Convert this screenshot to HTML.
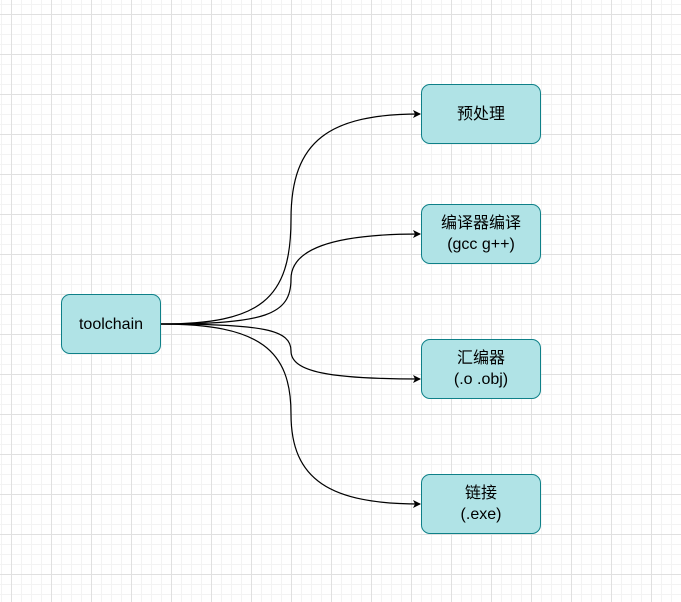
<!DOCTYPE html>
<html><head><meta charset="utf-8"><style>
html,body{margin:0;padding:0}
body{width:681px;height:602px;overflow:hidden;background:#fff;
background-image:linear-gradient(#e0e0e0 1px,transparent 1px),linear-gradient(90deg,#e0e0e0 1px,transparent 1px),linear-gradient(#f3f3f3 1px,transparent 1px),linear-gradient(90deg,#f3f3f3 1px,transparent 1px);
background-size:40px 40px,40px 40px,10px 10px,10px 10px;background-position:11px 14px,11px 14px,1px 4px,1px 4px;position:relative;
font-family:"Liberation Sans","Noto Sans CJK SC",sans-serif}
.b{position:absolute;box-sizing:border-box;background:#b0e3e6;border:1px solid #0e8088;border-radius:9px;
display:flex;align-items:center;justify-content:center;text-align:center;font-size:16px;line-height:21px;color:#000}
svg{position:absolute;left:0;top:0}
</style></head><body>
<svg width="681" height="602">
<defs><marker id="a" markerWidth="8" markerHeight="8" refX="7" refY="4" orient="auto" markerUnits="userSpaceOnUse"><path d="M0,0 L8,4 L0,8 L2,4Z" fill="#000"/></marker></defs>
<g fill="none" stroke="#000" stroke-width="1.2" marker-end="url(#a)">
<path d="M161 324 C260 324,291 300,291 219 C291 140,330 114,420 114"/>
<path d="M161 324 C265 324,291 315,291 279 C291 250,330 234,420 234"/>
<path d="M161 324 C265 324,291 330,291 351 C291 372,330 379,420 379"/>
<path d="M161 324 C260 324,291 350,291 414 C291 480,330 504,420 504"/>
</g></svg>
<div class="b" style="left:61px;top:294px;width:100px;height:60px">toolchain</div>
<div class="b" style="left:421px;top:84px;width:120px;height:60px">预处理</div>
<div class="b" style="left:421px;top:204px;width:120px;height:60px">编译器编译<br>(gcc g++)</div>
<div class="b" style="left:421px;top:339px;width:120px;height:60px">汇编器<br>(.o .obj)</div>
<div class="b" style="left:421px;top:474px;width:120px;height:60px">链接<br>(.exe)</div>
</body></html>
